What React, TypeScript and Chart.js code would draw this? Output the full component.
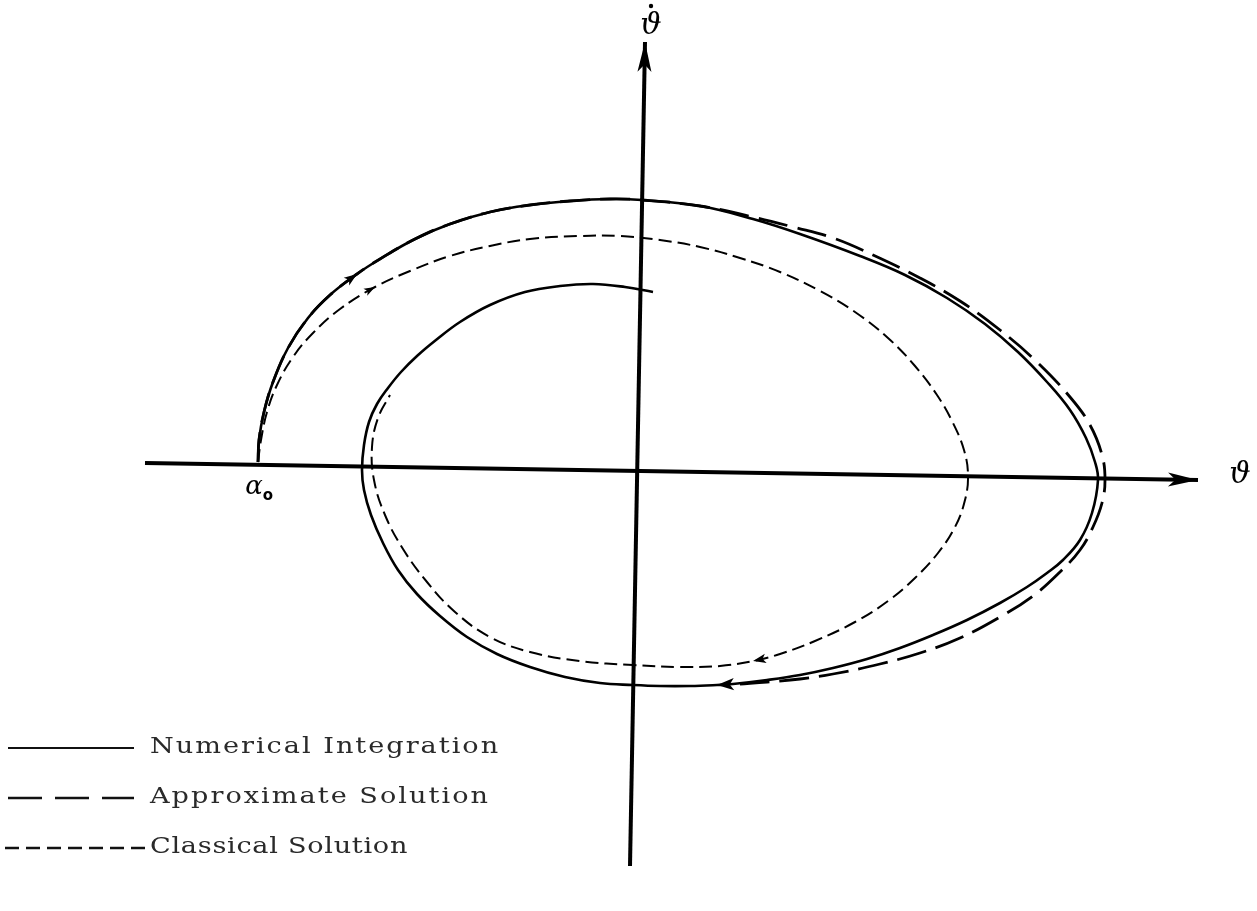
import React, { useEffect, useRef } from "react";
import { Chart, registerables } from "chart.js";

Chart.register(...registerables);

// Phase plane: horizontal ϑ, vertical ϑ̇ (arbitrary units, origin at the axis crossing)

// Numerical integration trajectory (solid)
const numericalTheta = [
  -3.79, -3.78, -3.73, -3.64, -3.49, -3.29, -3.07, -2.8, -2.57, -2.22, -1.87, -1.47, -1.07, -0.67, -0.27, 0.05,
  0.63, 1.16, 1.63, 2.23, 2.68, 3.1, 3.48, 3.81, 4.1, 4.33, 4.49, 4.58, 4.61, 4.55, 4.43, 4.26, 4.1, 3.9,
  3.63, 3.3, 2.96, 2.63, 2.3, 1.96, 1.63, 1.3, 0.96, 0.8, 0.53, 0.23, -0.04, -0.37, -0.72, -1.07, -1.4,
  -1.7, -1.97, -2.2, -2.39, -2.54, -2.66, -2.73, -2.75, -2.73, -2.68, -2.6, -2.49, -2.36, -2.2, -2.01,
  -1.77, -1.47, -1.12, -0.77, -0.44, -0.12, 0.16,
];
const numericalThetaDot = [
  0.08, 0.3, 0.58, 0.88, 1.22, 1.52, 1.75, 1.96, 2.11, 2.31, 2.46, 2.58, 2.65, 2.69, 2.71, 2.7,
  2.64, 2.51, 2.36, 2.14, 1.95, 1.72, 1.46, 1.18, 0.88, 0.6, 0.32, 0.08, -0.1, -0.43, -0.7, -0.9, -1.03, -1.17,
  -1.33, -1.5, -1.65, -1.78, -1.89, -1.98, -2.05, -2.1, -2.14, -2.15, -2.16, -2.16, -2.15, -2.13, -2.07, -1.97, -1.84,
  -1.67, -1.46, -1.24, -1.0, -0.73, -0.45, -0.2, 0.0, 0.25, 0.48, 0.66, 0.82, 0.98, 1.14, 1.3,
  1.48, 1.65, 1.78, 1.84, 1.86, 1.83, 1.78,
];

// Approximate solution (long dashes)
const approximateTheta = [
  -3.79, -3.78, -3.73, -3.64, -3.49, -3.29, -3.07, -2.8, -2.57, -2.22, -1.87, -1.47, -1.07, -0.67, -0.27, 0.05,
  0.63, 1.16, 1.56, 1.96, 2.36, 2.83, 3.23, 3.63, 4.0, 4.33, 4.53, 4.65, 4.68, 4.65, 4.56, 4.43, 4.23, 3.96,
  3.63, 3.23, 2.83, 2.43, 1.96, 1.63, 1.3, 1.03,
];
const approximateThetaDot = [
  0.08, 0.3, 0.58, 0.88, 1.22, 1.52, 1.75, 1.96, 2.11, 2.31, 2.46, 2.58, 2.65, 2.69, 2.71, 2.7,
  2.64, 2.53, 2.43, 2.32, 2.15, 1.92, 1.69, 1.4, 1.08, 0.73, 0.45, 0.15, -0.1, -0.33, -0.57, -0.8, -1.02, -1.26,
  -1.47, -1.68, -1.83, -1.94, -2.04, -2.09, -2.12, -2.14,
];

// Classical solution (short dashes)
const classicalTheta = [
  -3.79, -3.76, -3.7, -3.6, -3.44, -3.24, -2.97, -2.62, -2.27, -1.87, -1.47, -1.07, -0.57, -0.17, 0.23, 0.63,
  1.03, 1.43, 1.83, 2.18, 2.51, 2.78, 3.0, 3.16, 3.27, 3.31, 3.28, 3.18, 3.01, 2.78, 2.51, 2.18, 1.78, 1.43,
  1.16, 0.83, 0.43, -0.04, -0.57, -1.07, -1.47, -1.82, -2.1, -2.34, -2.52, -2.63, -2.65, -2.59, -2.47,
];
const classicalThetaDot = [
  0.08, 0.3, 0.58, 0.85, 1.13, 1.37, 1.61, 1.83, 1.99, 2.14, 2.24, 2.31, 2.34, 2.34, 2.3, 2.23,
  2.12, 1.98, 1.79, 1.58, 1.32, 1.04, 0.75, 0.47, 0.2, -0.05, -0.3, -0.57, -0.83, -1.08, -1.31, -1.52, -1.71, -1.84,
  -1.91, -1.96, -1.97, -1.95, -1.91, -1.82, -1.67, -1.42, -1.12, -0.79, -0.45, -0.1, 0.23, 0.52, 0.75,
];

// Coordinate axes (end points; the second point carries the arrow head)
const thetaAxis = { x: [-4.92, 5.61], y: [0.07, -0.1] };
const thetaDotAxis = { x: [-0.07, 0.08], y: [-3.96, 4.28] };

// Direction arrows on the trajectories: [dataset, point index, size]
const arrowMarks: [number, number, number][] = [
  [0, 7, 13],
  [0, 43, 17],
  [2, 7, 11],
  [2, 34, 13],
];

const legendLabels = ["Numerical Integration", "Approximate Solution", "Classical Solution"];

const zip = (xs: number[], ys: number[]) => xs.map((x, i) => ({ x, y: ys[i] }));

function drawHead(ctx: CanvasRenderingContext2D, x: number, y: number, ang: number, len: number, hw: number) {
  ctx.save();
  ctx.translate(x, y);
  ctx.rotate(ang);
  ctx.beginPath();
  ctx.moveTo(0, 0);
  ctx.lineTo(-len, -hw);
  ctx.lineTo(-len * 0.75, 0);
  ctx.lineTo(-len, hw);
  ctx.closePath();
  ctx.fillStyle = "#000";
  ctx.fill();
  ctx.restore();
}

const decorations = {
  id: "phaseDecorations",
  afterDatasetsDraw(chart: any) {
    const { ctx, scales } = chart;
    const xs = scales.x;
    const ys = scales.y;
    const px = (v: number) => xs.getPixelForValue(v);
    const py = (v: number) => ys.getPixelForValue(v);

    // axis arrow heads
    [thetaAxis, thetaDotAxis].forEach((a) => {
      const x0 = px(a.x[0]), y0 = py(a.y[0]);
      const x1 = px(a.x[1]), y1 = py(a.y[1]);
      drawHead(ctx, x1, y1, Math.atan2(y1 - y0, x1 - x0), 30, 7);
    });

    // trajectory arrows
    arrowMarks.forEach(([ds, i, size]) => {
      const pts = chart.data.datasets[ds].data;
      const a = pts[i - 1], b = pts[i], c = pts[i + 1];
      const ang = Math.atan2(py(c.y) - py(a.y), px(c.x) - px(a.x));
      drawHead(ctx, px(b.x), py(b.y), ang, size, size * 0.36);
    });

    ctx.save();
    ctx.fillStyle = "#000";
    ctx.textAlign = "center";
    ctx.textBaseline = "middle";
    // axis names
    ctx.font = "italic 30px 'DejaVu Serif'";
    ctx.fillText("\u03D1", 651, 26);
    ctx.beginPath();
    ctx.arc(651, 6, 2.2, 0, Math.PI * 2);
    ctx.fill();
    ctx.fillText("\u03D1", 1240, 475);
    ctx.font = "italic 26px 'DejaVu Serif'";
    ctx.fillText("\u03B1", 254, 487);
    ctx.font = "bold 15px 'DejaVu Sans'";
    ctx.fillText("o", 268, 496);

    // legend
    const rows = [748, 798, 848];
    const dashes = [[], [34, 13], [14, 7]];
    const spans = [[8, 134], [8, 134], [5, 146]];
    const widths = [350, 340, 258];
    const stretch = 1.18;
    rows.forEach((yy, k) => {
      ctx.save();
      ctx.strokeStyle = "#111";
      ctx.lineWidth = k === 0 ? 2 : 2.4;
      ctx.setLineDash(dashes[k]);
      ctx.beginPath();
      ctx.moveTo(spans[k][0], yy);
      ctx.lineTo(spans[k][1], yy);
      ctx.stroke();
      ctx.restore();

      ctx.save();
      ctx.font = "23px 'DejaVu Serif'";
      ctx.fillStyle = "#2a2a2a";
      ctx.textAlign = "left";
      ctx.textBaseline = "middle";
      const t = legendLabels[k];
      const w = ctx.measureText(t).width * stretch;
      const sp = Math.max(0, (widths[k] - w) / t.length / stretch);
      (ctx as any).letterSpacing = sp.toFixed(2) + "px";
      ctx.translate(150, yy - 1);
      ctx.scale(stretch, 1);
      ctx.fillText(t, 0, 0);
      ctx.restore();
    });
    ctx.restore();
  },
};

export default function App() {
  const ref = useRef<HTMLCanvasElement | null>(null);

  useEffect(() => {
    if (!ref.current) return;
    const common = { pointRadius: 0, pointHoverRadius: 0, showLine: true, fill: false, borderColor: "#000" };
    const chart = new Chart(ref.current, {
      type: "scatter",
      data: {
        datasets: [
          { ...common, label: legendLabels[0], data: zip(numericalTheta, numericalThetaDot), borderWidth: 2.6, tension: 0.4 },
          { ...common, label: legendLabels[1], data: zip(approximateTheta, approximateThetaDot), borderWidth: 2.8, borderDash: [30, 10], tension: 0.4 },
          { ...common, label: legendLabels[2], data: zip(classicalTheta, classicalThetaDot), borderWidth: 2, borderDash: [13, 6], tension: 0.4 },
          { ...common, label: "theta", data: zip(thetaAxis.x, thetaAxis.y), borderWidth: 4, tension: 0 },
          { ...common, label: "thetaDot", data: zip(thetaDotAxis.x, thetaDotAxis.y), borderWidth: 4, tension: 0 },
        ],
      },
      options: {
        animation: false,
        responsive: true,
        maintainAspectRatio: false,
        layout: { padding: 0 },
        events: [],
        plugins: { legend: { display: false }, tooltip: { enabled: false }, title: { display: false } },
        scales: {
          x: { type: "linear", min: -6.37, max: 6.2, display: false },
          y: { type: "linear", min: -4.41, max: 4.7, display: false },
        },
      },
      plugins: [decorations],
    });
    return () => chart.destroy();
  }, []);

  return (
    <div style={{ position: "absolute", left: 0, top: 0, width: 1257, height: 911, background: "#fff" }}>
      <canvas ref={ref} />
    </div>
  );
}
